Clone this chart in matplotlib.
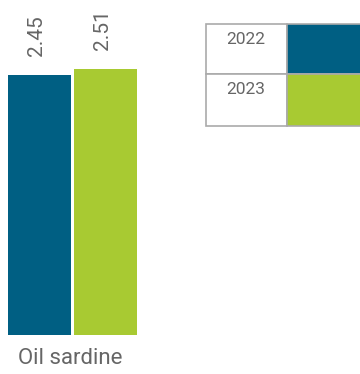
import matplotlib
matplotlib.use("Agg")
import matplotlib.pyplot as plt
from matplotlib.patches import Rectangle

categories = ["Oil sardine"]
years = ["2022", "2023"]
values = [2.45, 2.51]
colors = ["#005f83", "#a8ca32"]

W, H = 360, 374
fig = plt.figure(figsize=(W / 100, H / 100), dpi=100)
plt.rcParams['font.family'] = ['Roboto', 'DejaVu Sans']

def fx(px):
    return px / W

def fy(py):
    return 1 - py / H

ax = fig.add_axes([fx(8), fy(335), fx(137) - fx(8), fy(69) - fy(335)])
bw = 0.955
xs = [0, 1]
bars = ax.bar(xs, values, width=bw, color=colors, edgecolor='none')
ax.set_xlim(-bw / 2, 1 + bw / 2)
ax.set_ylim(0, max(values))
ax.axis('off')
for x, v in zip(xs, values):
    ax.annotate(f"{v:.2f}", xy=(x, v), xytext=(-2, 14), textcoords='offset points',
                rotation=90, ha='center', va='bottom', color='#666666', fontsize=15,
                annotation_clip=False)

fig.text(fx(70), fy(358), categories[0], ha='center', va='center', fontsize=16,
         color='#666666')

# legend table
edge = '#aaaaaa'
row_tops = [24, 74]
row_h = [50, 52]
for i, (yr, c) in enumerate(zip(years, colors)):
    top = row_tops[i]
    h = row_h[i]
    fig.patches.append(Rectangle((fx(206), fy(top + h)), fx(287) - fx(206), h / H,
                                 transform=fig.transFigure, facecolor='white',
                                 edgecolor=edge, linewidth=1.2))
    fig.patches.append(Rectangle((fx(287), fy(top + h)), fx(370) - fx(287), h / H,
                                 transform=fig.transFigure, facecolor=c,
                                 edgecolor=edge, linewidth=1.2, clip_on=True))
    fig.text(fx(246), fy(top + 15), yr, ha='center', va='center', fontsize=12.5,
             color='#666666')

fig.savefig("out.png", dpi=100, facecolor='white')
